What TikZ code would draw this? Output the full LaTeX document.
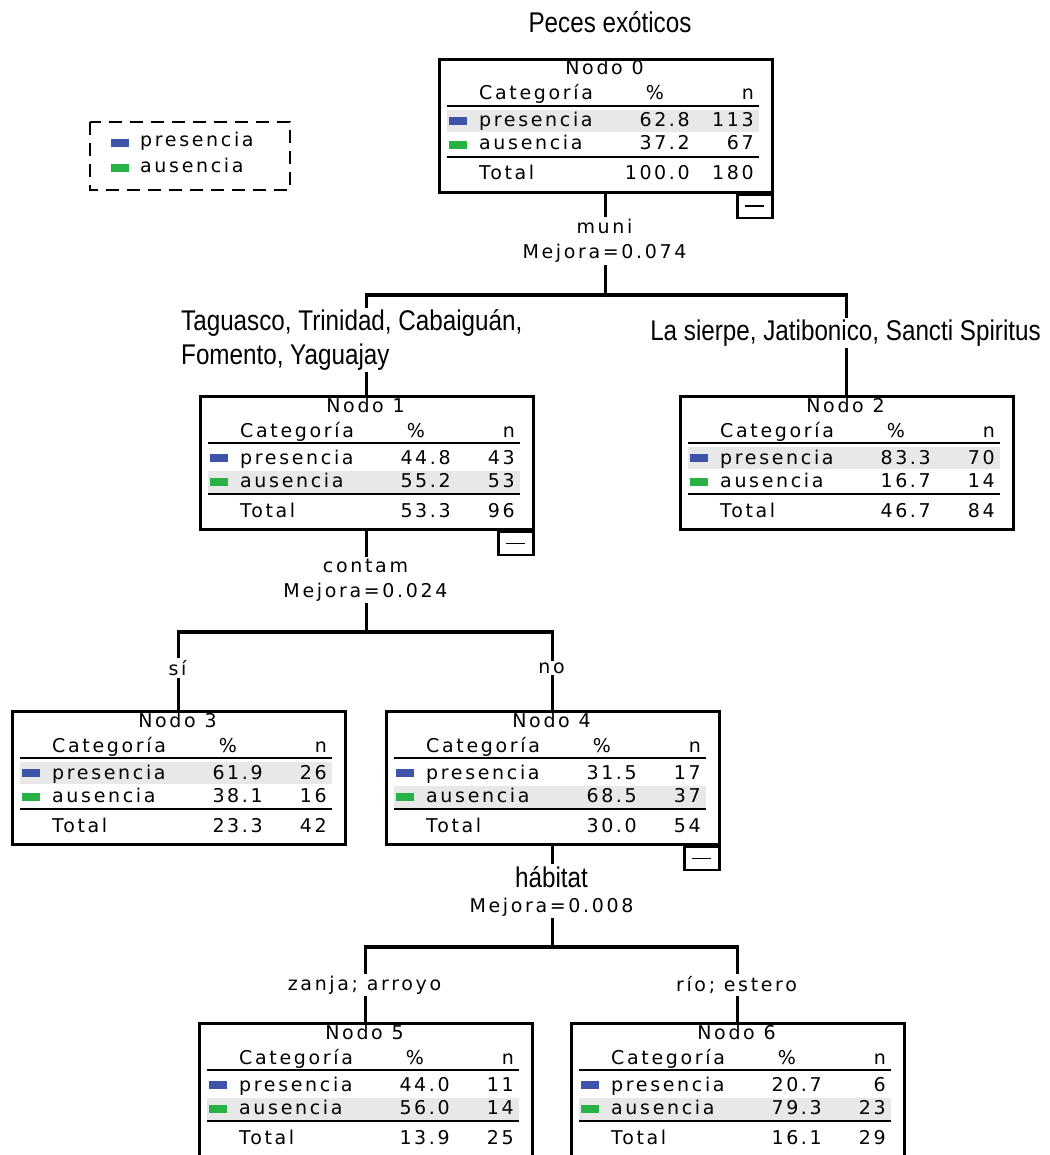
\documentclass[tikz,border=0pt]{standalone}
\usepackage{fontspec}
\newfontfamily\arbolfont{DejaVu Sans}[LetterSpace=14]
\newfontfamily\rotulofont{Liberation Sans}[FakeStretch=0.85]
\definecolor{azulpres}{RGB}{62,84,170}
\definecolor{verdeaus}{RGB}{40,178,70}
\definecolor{grisfila}{RGB}{232,232,232}
\tikzset{caja/.style = {draw, line width = 2.6pt, anchor = north west, inner sep = 0,
                        minimum width = 333pt, minimum height = 133pt}}
\tikzset{menos/.style = {draw, line width = 2.6pt, anchor = north east, inner sep = 0,
                         minimum width = 35pt, minimum height = 23pt}}
\tikzset{celda/.style = {inner sep = 0, font = \arbolfont\fontsize{19}{25}\selectfont}}
\tikzset{corte/.style = {fill = white, inner sep = 2pt, align = center,
                         font = \arbolfont\fontsize{19}{25}\selectfont}}
\tikzset{rotulo/.style = {fill = white, inner sep = 2pt, align = left,
                          font = \rotulofont\fontsize{28.5}{34}\selectfont}}
\tikzset{rama/.style = {line width = 3.2pt}}
\tikzset{linea/.style = {line width = 2.2pt}}
\tikzset{fila/.style = {fill = grisfila}}

\newcommand{\tablanodo}[8]{%
  \begin{scope}[shift = {(n#1.north west)}]
    \fill [fila] (9, #8) rectangle (321, #8 + 22);
    \node [celda, anchor = base] (n#1-titulo) at (166.5, 17) {Nodo #1};
    \node [celda, anchor = base west] (n#1-cat) at (41, 42) {Categoría};
    \node [celda, anchor = base] (n#1-pct) at (217, 42) {\%};
    \node [celda, anchor = base east] (n#1-n) at (316, 42) {n};
    \draw [linea] (9, 48) -- (321, 48);
    \fill [azulpres] (11, 59) rectangle (29, 67);
    \node [celda, anchor = base west] (n#1-pres) at (41, 69) {presencia};
    \node [celda, anchor = base east] (n#1-pres-pct) at (252, 69) {#2};
    \node [celda, anchor = base east] (n#1-pres-n) at (316, 69) {#3};
    \fill [verdeaus] (11, 83) rectangle (29, 91);
    \node [celda, anchor = base west] (n#1-aus) at (41, 92) {ausencia};
    \node [celda, anchor = base east] (n#1-aus-pct) at (252, 92) {#4};
    \node [celda, anchor = base east] (n#1-aus-n) at (316, 92) {#5};
    \draw [linea] (9, 99) -- (321, 99);
    \node [celda, anchor = base west] (n#1-total) at (41, 122) {Total};
    \node [celda, anchor = base east] (n#1-total-pct) at (252, 122) {#6};
    \node [celda, anchor = base east] (n#1-total-n) at (316, 122) {#7};
  \end{scope}}

\begin{document}
\begin{tikzpicture}[x = 1pt, y = -1pt]
  \useasboundingbox (0, 0) rectangle (1049, 1155);
  \clip (0, 0) rectangle (1049, 1155);

  \node [rotulo, anchor = base] (titulo) at (610, 33) {Peces exóticos};

  \draw [line width = 2.8pt, dash pattern = on 13pt off 8pt] (90, 122) rectangle (290, 190);
  \fill [azulpres] (111, 139) rectangle (129, 147);
  \node [celda, anchor = base west] (ley-pres) at (140, 147) {presencia};
  \fill [verdeaus] (111, 164) rectangle (129, 172);
  \node [celda, anchor = base west] (ley-aus) at (140, 173) {ausencia};

  \node [caja] (n0) at (438, 58) {};
  \node [caja] (n1) at (199, 395) {};
  \node [caja] (n2) at (679, 395) {};
  \node [caja] (n3) at (11, 710) {};
  \node [caja] (n4) at (385, 710) {};
  \node [caja, minimum height = 145pt] (n5) at (198, 1022) {};
  \node [caja, minimum height = 145pt] (n6) at (570, 1022) {};

  \tablanodo{0}{62.8}{113}{37.2}{67}{100.0}{180}{52}
  \tablanodo{1}{44.8}{43}{55.2}{53}{53.3}{96}{76}
  \tablanodo{2}{83.3}{70}{16.7}{14}{46.7}{84}{52}
  \tablanodo{3}{61.9}{26}{38.1}{16}{23.3}{42}{52}
  \tablanodo{4}{31.5}{17}{68.5}{37}{30.0}{54}{76}
  \tablanodo{5}{44.0}{11}{56.0}{14}{13.9}{25}{76}
  \tablanodo{6}{20.7}{6}{79.3}{23}{16.1}{29}{76}

  \node [menos] (m0) at (n0.south east) {\rule{19pt}{1.8pt}};
  \node [menos] (m1) at (n1.south east) {\rule{19pt}{1.8pt}};
  \node [menos] (m4) at (n4.south east) {\rule{19pt}{1.8pt}};

  \coordinate (h0) at (0, 295);
  \coordinate (h1) at (0, 632);
  \coordinate (h4) at (0, 947);

  \draw [rama] (n0.south) -- (n0.south |- h0);
  \draw [rama] (n1.north) |- (n0.south |- h0) -| (n2.north);
  \draw [rama] (n1.south) -- (n1.south |- h1);
  \draw [rama] (n3.north) |- (n1.south |- h1) -| (n4.north);
  \draw [rama] (n4.south) -- (n4.south |- h4);
  \draw [rama] (n5.north) |- (n4.south |- h4) -| (n6.north);

  \node [corte] (s0) at (604.5, 241) {muni\\Mejora=0.074};
  \node [rotulo, anchor = west] (r1) at (179, 340) {Taguasco, Trinidad, Cabaiguán,\\Fomento, Yaguajay};
  \node [rotulo] (r2) at (845.5, 333) {La sierpe, Jatibonico, Sancti Spiritus};
  \node [corte] (s1) at (365.5, 580) {contam\\Mejora=0.024};
  \node [corte] (r3) at (177.5, 668) {sí};
  \node [corte] (r4) at (551.5, 668) {no};
  \node [corte] (s4) at (551.5, 891) {{\rotulofont\fontsize{28.5}{34}\selectfont hábitat}\\Mejora=0.008};
  \node [corte] (r5) at (364.5, 985) {zanja; arroyo};
  \node [corte] (r6) at (736.5, 985) {río; estero};
\end{tikzpicture}
\end{document}
